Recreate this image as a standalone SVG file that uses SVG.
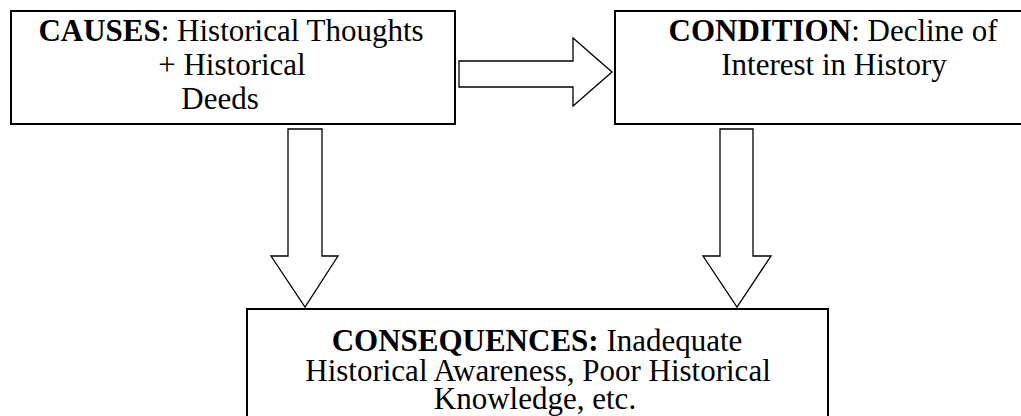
<svg xmlns="http://www.w3.org/2000/svg" width="1021" height="416" viewBox="0 0 1021 416">
<style>
.box{fill:#fff;stroke:#000;stroke-width:2}
.arr{fill:#fff;stroke:#000;stroke-width:1.3;stroke-linejoin:miter}
text{font-family:"Liberation Serif","Times New Roman",serif;font-size:31px;fill:#000;text-anchor:middle}
.b{font-weight:bold}
</style>
<rect width="1021" height="416" fill="#fff"/>
<g id="connectors">
<polygon class="arr" points="459,61 573,61 573,38 612,72 573,106 573,87 459,87"/>
<polygon class="arr" points="288,129 322,129 322,256 338,256 305,307 271,256 288,256"/>
<polygon class="arr" points="720,129 753,129 753,256 771,256 737,307 703,256 720,256"/>
</g>
<g id="causes">
<rect class="box" x="11" y="11" width="444" height="113"/>
<text x="231" y="41"><tspan class="b">CAUSES</tspan>: Historical Thoughts</text>
<text x="232" y="75">+ Historical</text>
<text x="220" y="109">Deeds</text>
</g>
<g id="condition">
<rect class="box" x="615" y="11" width="430" height="113"/>
<text x="833" y="41"><tspan class="b">CONDITION</tspan>: Decline of</text>
<text x="834" y="75">Interest in History</text>
</g>
<g id="consequences">
<rect class="box" x="247" y="309" width="581" height="130"/>
<text x="537" y="351"><tspan class="b">CONSEQUENCES:</tspan> Inadequate</text>
<text x="538" y="381">Historical Awareness, Poor Historical</text>
<text x="535" y="409">Knowledge, etc.</text>
</g>
</svg>
